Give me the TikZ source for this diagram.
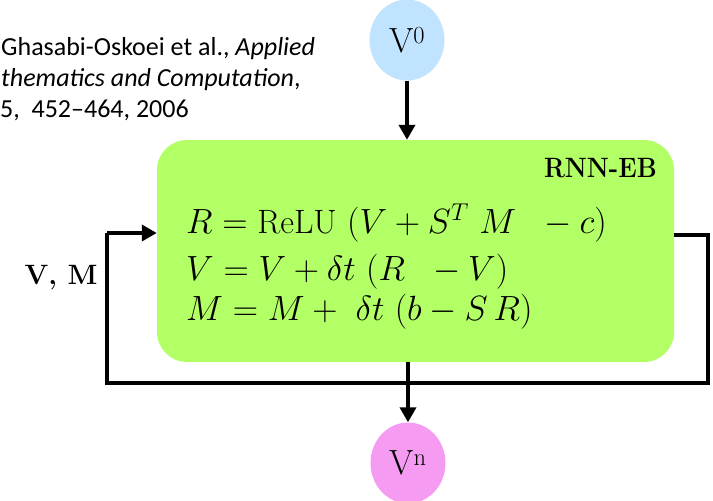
\documentclass[tikz,border=0pt]{standalone}
\usepackage{fontspec}
\usepackage{amsmath}
\usetikzlibrary{arrows.meta,shapes.geometric}
\newfontfamily\citefont{Carlito}
\definecolor{boxgreen}{RGB}{179,255,102}
\definecolor{inblue}{RGB}{192,228,255}
\definecolor{outpink}{RGB}{245,155,242}
\newcommand{\eqwide}[1]{\scalebox{1.69}{#1}}
\begin{document}
\begin{tikzpicture}[x=1pt,y=-1pt,
  conn/.style={line width=4.5pt},
  tip/.style={-{Triangle[width=16pt,length=15pt]}},
  citetext/.style={anchor=base west,inner sep=0pt,font=\citefont\fontsize{26}{30}\selectfont},
  eqtext/.style={anchor=base west,inner sep=0pt,font=\fontsize{20}{24}\selectfont}]
\useasboundingbox (0,0) rectangle (713,501);
\clip (0,0) rectangle (713,501);
% citation
\node[citetext] (c1) at (1,55) {Ghasabi-Oskoei et al., \textit{Applied}};
\node[citetext] (c2) at (1,86) {\textit{thematics and Computation},};
\node[citetext] (c3) at (0,117) {5,~ 452–464, 2006};
% main box
\node[draw=none,fill=boxgreen,rounded corners=30pt,minimum width=517pt,minimum height=222pt,inner sep=0pt] (box) at (415.5,251) {};
\node[anchor=base east,inner sep=0pt,font=\fontsize{25}{28}\selectfont\bfseries] (title) at (657,177) {\scalebox{1}[1.12]{RNN-EB}};
\node[eqtext] (e1) at (186,233) {\eqwide{$R = \mathrm{ReLU}\ (V + S^{T}\ M\ \ - c)$}};
\node[eqtext] (e2) at (186,280) {\eqwide{$V = V + \delta t\ (R\ \ - V)$}};
\node[eqtext] (e3) at (186,320) {\eqwide{$M = M +\ \delta t\ (b - S\,R)$}};
% in / out
\node[ellipse,fill=inblue,minimum width=75pt,minimum height=81pt,inner sep=0pt,font=\fontsize{35}{38}\selectfont] (v0) at (407,40) {V\textsuperscript{0}};
\node[ellipse,fill=outpink,minimum width=75pt,minimum height=81pt,inner sep=0pt,font=\fontsize{35}{38}\selectfont] (vn) at (408,463) {V\textsuperscript{n}};
\node[font=\fontsize{28}{30}\selectfont\bfseries,inner sep=0pt] (vm) at (61,278) {V, M};
% connectors
\coordinate (r1) at (708,235);
\coordinate (r2) at (708,383);
\coordinate (l1) at (107,383);
\coordinate (l2) at (107,233);
\draw[conn,tip] (v0.south) -- (box.north -| v0.south);
\draw[conn,tip] (box.south -| vn.north) -- (vn.north);
\draw[conn] (box.east |- r1) -- (r1) -- (r2) -- (l1) -- (l2);
\draw[conn,tip] (l2) -- (box.west |- l2);
\end{tikzpicture}
\end{document}
